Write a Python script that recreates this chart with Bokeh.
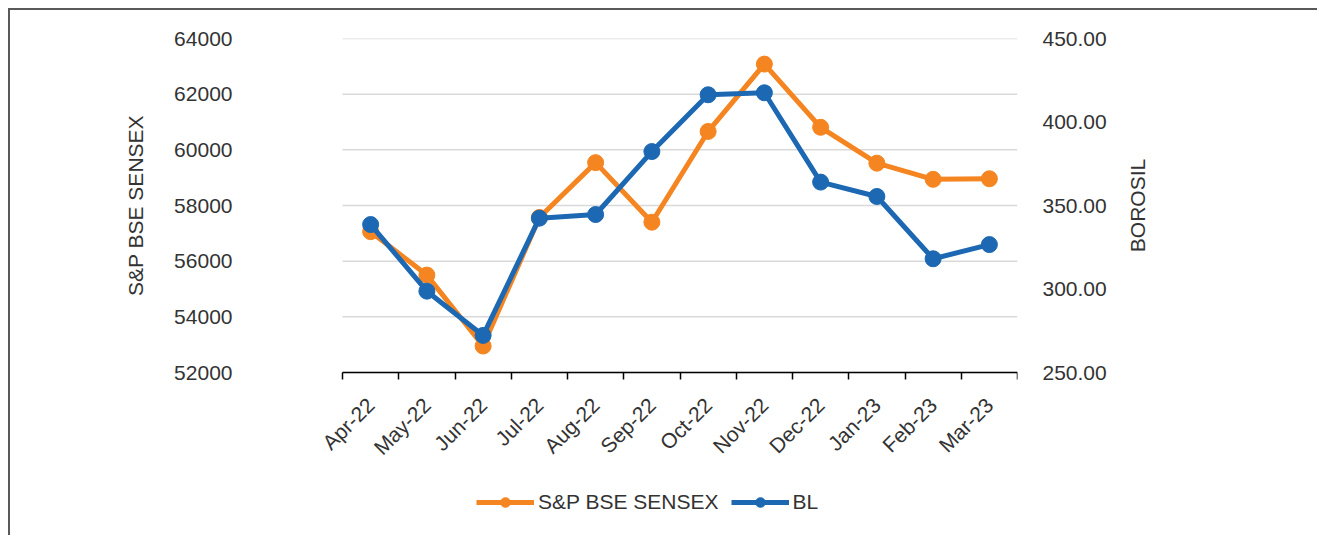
import numpy as np
from bokeh.plotting import figure
from bokeh.models import (Range1d, LinearAxis, FixedTicker, Legend, LegendItem,
                          NumeralTickFormatter)
from bokeh.embed import file_html
from bokeh.resources import INLINE

months = ["Apr-22", "May-22", "Jun-22", "Jul-22", "Aug-22", "Sep-22",
          "Oct-22", "Nov-22", "Dec-22", "Jan-23", "Feb-23", "Mar-23"]
sensex = [57060, 55500, 52950, 57570, 59540, 57400, 60660, 63080, 60810, 59520, 58940, 58960]
borosil = [338.6, 298.7, 272.2, 342.4, 344.6, 382.3, 416.3, 417.5, 364.0, 355.4, 318.1, 326.6]
left_ticks = [52000, 54000, 56000, 58000, 60000, 62000, 64000]
right_ticks = [250, 300, 350, 400, 450]

ORANGE = "#f58520"
BLUE = "#1c68b2"
TEXT = "#333333"
GRID = "#d9d9d9"
FONT = "Liberation Sans"
FS = "21px"

n = len(months)
xpos = [i + 0.5 for i in range(n)]

# layout constants (pixels)
AXIS_PX = 334    # height of the value area (top tick to bottom tick)
EXTRA_PX = 163   # room kept inside the frame below the x axis for the legend
PLOT_W = 675     # width of the category area
LPAD_PX = 42     # room kept inside the frame left of the first category
lspan = left_ticks[-1] - left_ticks[0]
rspan = right_ticks[-1] - right_ticks[0]
y_start = left_ticks[0] - EXTRA_PX * lspan / AXIS_PX
r_start = right_ticks[0] - EXTRA_PX * rspan / AXIS_PX
x_start = -LPAD_PX * n / PLOT_W

p = figure(frame_width=PLOT_W + LPAD_PX, frame_height=AXIS_PX + EXTRA_PX,
           output_backend="svg", toolbar_location=None,
           x_range=Range1d(x_start, n), y_range=Range1d(y_start, left_ticks[-1]),
           min_border_left=332 - LPAD_PX, min_border_right=300, min_border_top=28,
           min_border_bottom=0)
p.outline_line_color = None
p.styles = {"border-left": "2px solid #595959", "border-top": "2px solid #595959",
            "margin-left": "8px", "margin-top": "8px"}

p.extra_y_ranges = {"bl": Range1d(r_start, right_ticks[-1])}

# x axis, drawn at the bottom value of the left scale
xa = p.xaxis[0]
xa.fixed_location = left_ticks[0]
xa.bounds = (0, n)
xa.ticker = FixedTicker(ticks=xpos, minor_ticks=list(range(n + 1)))
xa.major_label_overrides = {x: m for x, m in zip(xpos, months)}
xa.major_label_orientation = np.pi / 4
xa.major_tick_in = 0
xa.major_tick_out = 0
xa.minor_tick_in = 0
xa.minor_tick_out = 7
xa.minor_tick_line_color = "black"
xa.minor_tick_line_width = 1.5
xa.axis_line_color = "black"
xa.axis_line_width = 1.5
xa.major_label_text_font = FONT
xa.major_label_text_font_size = FS
xa.major_label_text_color = TEXT
xa.major_label_standoff = 22

# left axis (values)
ya = p.yaxis[0]
ya.ticker = FixedTicker(ticks=left_ticks)
ya.axis_line_color = None
ya.major_tick_line_color = None
ya.minor_tick_line_color = None
ya.major_label_text_font = FONT
ya.major_label_text_font_size = FS
ya.major_label_text_color = TEXT
ya.major_label_standoff = 20 + LPAD_PX

# left axis title, centred on the value area
lmid = (left_ticks[0] + left_ticks[-1]) / 2
lt = LinearAxis(ticker=FixedTicker(ticks=[lmid]))
lt.major_label_overrides = {lmid: "S&P BSE SENSEX"}
lt.major_label_orientation = "vertical"
lt.axis_line_color = None
lt.major_tick_line_color = None
lt.minor_tick_line_color = None
lt.major_label_text_font = FONT
lt.major_label_text_font_size = FS
lt.major_label_text_color = TEXT
lt.major_label_standoff = 19
p.add_layout(lt, "left")

# right axis (values)
ra = LinearAxis(y_range_name="bl", ticker=FixedTicker(ticks=right_ticks),
                formatter=NumeralTickFormatter(format="0.00"))
ra.axis_line_color = None
ra.major_tick_line_color = None
ra.minor_tick_line_color = None
ra.major_label_text_font = FONT
ra.major_label_text_font_size = FS
ra.major_label_text_color = TEXT
ra.major_label_standoff = 19
p.add_layout(ra, "right")

# right axis title, reading bottom-to-top, centred on the value area
title_len_px = 93.4  # approx. rendered length of the title text
title_anchor = (right_ticks[0] + right_ticks[-1]) / 2 - title_len_px / 2 * rspan / AXIS_PX
rt = LinearAxis(y_range_name="bl", ticker=FixedTicker(ticks=[title_anchor]))
rt.major_label_overrides = {title_anchor: "BOROSIL"}
rt.major_label_orientation = np.pi / 2
rt.axis_line_color = None
rt.major_tick_line_color = None
rt.minor_tick_line_color = None
rt.major_label_text_font = FONT
rt.major_label_text_font_size = FS
rt.major_label_text_color = TEXT
rt.major_label_standoff = 22
p.add_layout(rt, "right")

# horizontal grid lines at the left-axis ticks, spanning the category area only
p.xgrid.grid_line_color = None
p.ygrid.grid_line_color = None
p.segment(x0=[0] * len(left_ticks), x1=[n] * len(left_ticks), y0=left_ticks, y1=left_ticks,
          line_color=GRID, line_width=1.5, level="underlay")

l1 = p.line(xpos, sensex, line_color=ORANGE, line_width=5)
s1 = p.scatter(xpos, sensex, size=16, fill_color=ORANGE, line_color=ORANGE)
l2 = p.line(xpos, borosil, y_range_name="bl", line_color=BLUE, line_width=5)
s2 = p.scatter(xpos, borosil, y_range_name="bl", size=16, fill_color=BLUE, line_color=BLUE)

legend = Legend(items=[LegendItem(label="S&P BSE SENSEX", renderers=[l1, s1]),
                       LegendItem(label="BL", renderers=[l2, s2])],
                orientation="horizontal", location=(134 + LPAD_PX, 21),
                glyph_width=58, glyph_height=24, label_standoff=4, spacing=12,
                label_text_font=FONT, label_text_font_size=FS, label_text_color=TEXT,
                border_line_color=None, background_fill_alpha=0, padding=0, margin=0)
p.add_layout(legend, "center")

open("out.html", "w").write(file_html(p, INLINE))
